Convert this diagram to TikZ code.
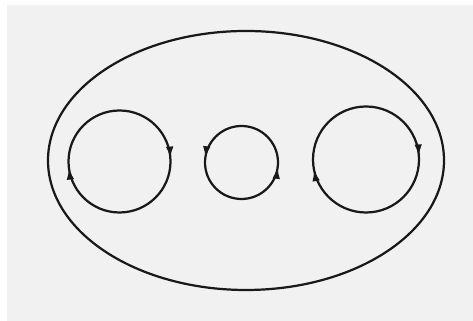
\documentclass[tikz,border=0pt]{standalone}
\usepackage{tikz}
\usetikzlibrary{arrows.meta,decorations.markings}
\definecolor{paper}{RGB}{241,241,241}
\definecolor{ink}{RGB}{25,25,25}

\tikzset{
  loopline/.style={draw=ink, line width=1.9pt},
  cwflow/.style 2 args={postaction={decorate}, decoration={markings,
      mark=at position #1 with {\arrowreversed[ink]{Latex[length=10pt,width=6.5pt]}},
      mark=at position #2 with {\arrowreversed[ink]{Latex[length=10pt,width=6.5pt]}}}},
  ccwflow/.style 2 args={postaction={decorate}, decoration={markings,
      mark=at position #1 with {\arrow[ink]{Latex[length=10pt,width=6.5pt]}},
      mark=at position #2 with {\arrow[ink]{Latex[length=10pt,width=6.5pt]}}}}
}

\begin{document}
\begin{tikzpicture}[x=0.03cm, y=0.03cm]
\useasboundingbox (0,0) rectangle (473,321);
\fill[white] (0,0) rectangle (473,321);
\fill[paper] (7,0) rectangle (473,316);
% outer boundary
\coordinate (mid) at (246,160.5);
\draw[loopline] (mid) ellipse [x radius=198, y radius=129.5];
% inner loops
\coordinate (lc) at (119.5,159.5);
\coordinate (cc) at (241.5,158.5);
\coordinate (rc) at (366,161.5);
\draw[loopline, cwflow={0.01}{0.52}] (lc) circle [radius=51];
\draw[loopline, ccwflow={0.48}{0.98}] (cc) circle [radius=36.5];
\draw[loopline, cwflow={0.01}{0.53}] (rc) circle [radius=53];
\end{tikzpicture}
\end{document}
